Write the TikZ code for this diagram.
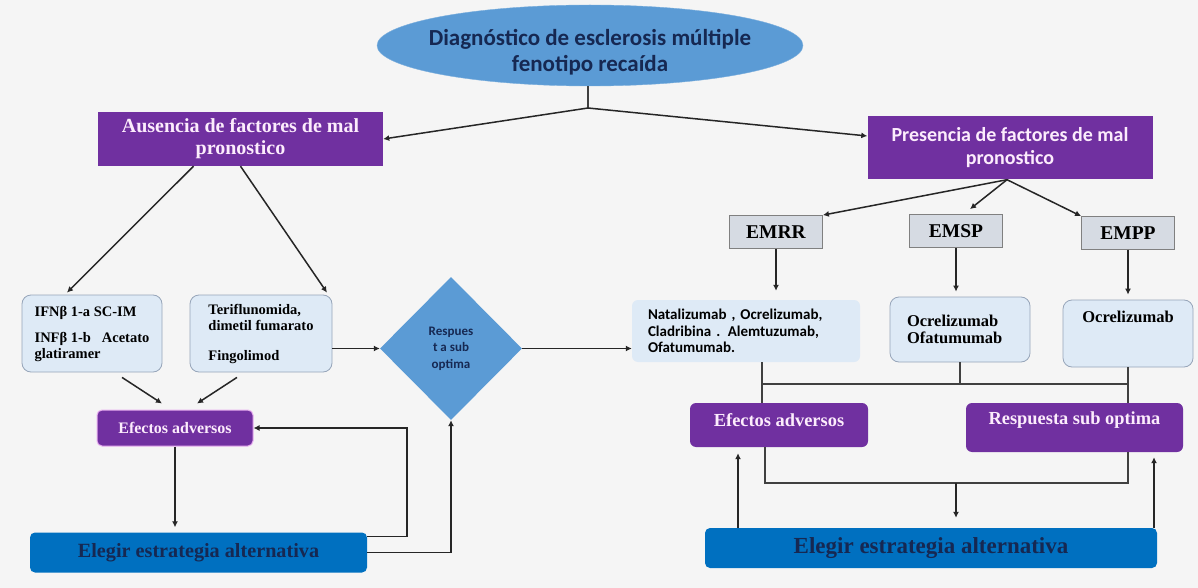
\documentclass[tikz,border=0pt]{standalone}
\usepackage{fontspec}
\setmainfont{Liberation Serif}
\newfontfamily\calib{Carlito}
\usetikzlibrary{shapes.geometric,arrows.meta}
\definecolor{bgc}{RGB}{245,245,245}
\definecolor{oval}{RGB}{91,155,213}
\definecolor{navy}{RGB}{22,40,82}
\definecolor{purp}{RGB}{112,48,160}
\definecolor{pinkw}{RGB}{252,236,252}
\definecolor{glow}{RGB}{232,176,240}
\definecolor{pale}{RGB}{222,234,246}
\definecolor{paleedge}{RGB}{150,165,185}
\definecolor{grbox}{RGB}{214,219,227}
\definecolor{strat}{RGB}{0,112,192}
\newcommand\fsz[2]{\fontsize{#1}{#2}\selectfont}
\tikzset{
  arr/.style={line width=1.5pt,draw=black!85,-{Latex[length=6pt,width=6pt]}},
  bus/.style={line width=1.6pt,draw=black!75},
  purple box/.style={rectangle,fill=purp,text=pinkw,inner sep=0pt,align=center},
  pale box/.style={rectangle,rounded corners=9pt,fill=pale,draw=paleedge,line width=0.8pt,align=left},
  grey box/.style={rectangle,fill=grbox,draw=black!50,line width=0.8pt,minimum width=93pt,minimum height=33pt,
    font=\bfseries\fsz{19.5}{22}},
  strat box/.style={rectangle,rounded corners=5pt,fill=strat,text=navy,inner sep=0pt,font=\bfseries}
}
\begin{document}
\begin{tikzpicture}[x=1pt,y=-1pt]
\fill[bgc] (0,0) rectangle (1198,588);
\useasboundingbox (0,0) rectangle (1198,588);
% top of the chart
\node[ellipse,fill=oval,draw=oval!80!white,minimum width=426pt,minimum height=81pt,inner xsep=-15pt,inner ysep=-5pt,
  align=center,text=navy,font=\calib\bfseries\fsz{23}{26}] (diag) at (590,45.5)
  {\rule{0pt}{29pt}Diagnóstico de esclerosis múltiple\\fenotipo recaída};
\node[purple box,minimum width=285pt,minimum height=54pt,font=\bfseries\fsz{20}{22}] (aus) at (240.5,139)
  {Ausencia de factores de mal\\pronostico};
\node[purple box,minimum width=285pt,minimum height=63pt,font=\calib\bfseries\fsz{20}{23}] (pres) at (1010,148)
  {Presencia de factores de mal\\pronostico};
\coordinate (split) at (588,108);
\draw[bus,line width=1.5pt] (diag.south -| split) -- (split);
\draw[arr] (split) -- (aus.east);
\draw[arr] (split) -- ([yshift=12pt]pres.west);
% left branch
\node[pale box,minimum width=140pt,minimum height=77pt,font=\bfseries\fsz{14.5}{16}] (ifn) at (92,333.5)
  {IFNβ 1-a SC-IM\\[10pt]INFβ 1-b \ \ Acetato\\glatiramer};
\node[pale box,minimum width=142pt,minimum height=77pt,font=\bfseries\fsz{14.5}{16.5}] (teri) at (261,333.5)
  {Teriflunomida,\\dimetil fumarato\\[13pt]Fingolimod};
\node[diamond,fill=oval,minimum width=142pt,minimum height=143pt,inner sep=0pt,align=center,text=navy,
  font=\calib\bfseries\fsz{13}{16.5}] (diam) at (451,348.5) {Respues\\t a sub\\optima};
\node[purple box,rounded corners=5pt,draw=glow,line width=1pt,minimum width=156pt,minimum height=36pt,
  font=\bfseries\fsz{16}{18}] (efL) at (175,428) {Efectos adversos};
\node[strat box,minimum width=337pt,minimum height=40pt,font=\bfseries\fsz{20.2}{22}] (eleL) at (198.5,552.5)
  {Elegir estrategia alternativa};
\draw[arr] ([xshift=-47pt]aus.south) -- ([xshift=-25pt,yshift=2pt]ifn.north);
\draw[arr] (aus.south) -- ([xshift=66pt,yshift=2pt]teri.north);
\draw[arr] ([xshift=30pt,yshift=-5pt]ifn.south) -- ([xshift=-13pt,yshift=6pt]efL.north);
\draw[arr] ([xshift=-24pt,yshift=-5pt]teri.south) -- ([xshift=22pt,yshift=6pt]efL.north);
\draw[arr] (efL.south) -- ([yshift=5pt]efL.south |- eleL.north);
\draw[arr] ([yshift=16pt]eleL.east) -- ++(40,0) |- (efL.east);
\draw[arr] (eleL.east) -| (diam.south);
\draw[arr] (teri.east |- diam.west) -- (diam.west);
% right branch
\node[grey box] (emrr) at (776,232) {EMRR};
\node[grey box] (emsp) at (956,231) {EMSP};
\node[grey box] (empp) at (1128,233) {EMPP};
\node[rectangle,rounded corners=6pt,fill=pale,minimum width=228pt,minimum height=62pt,text width=196pt,inner xsep=16pt,
  align=left,font=\calib\bfseries\fsz{15}{16.5}] (nat) at (746,331)
  {Natalizumab , Ocrelizumab,\\Cladribina . Alemtuzumab,\\Ofatumumab.};
\node[pale box,minimum width=140pt,minimum height=65pt,text width=106pt,inner xsep=17pt,
  font=\bfseries\fsz{16.5}{17}] (ocof) at (960,329.5) {Ocrelizumab\\Ofatumumab};
\node[pale box,minimum width=130pt,minimum height=67pt,text height=5pt,text depth=26.4pt,
  font=\bfseries\fsz{16.5}{17}] (ocre) at (1128,333.5) {Ocrelizumab};
\node[purple box,rounded corners=6pt,minimum width=178pt,minimum height=44pt,text height=9.4pt,text depth=6.6pt,
  font=\bfseries\fsz{18.4}{20}] (efR) at (779,425) {Efectos adversos};
\node[purple box,rounded corners=6pt,minimum width=217pt,minimum height=49pt,text height=6pt,text depth=12.2pt,
  font=\bfseries\fsz{18.4}{20}] (resR) at (1074.5,427.5) {Respuesta sub optima};
\node[strat box,minimum width=452pt,minimum height=40pt,font=\bfseries\fsz{23}{25}] (eleR) at (931,548)
  {Elegir estrategia alternativa};
\draw[arr] (diam.east) -- (diam.east -| nat.west);
\draw[arr] ([xshift=-3pt]pres.south) -- (emrr.north east);
\draw[arr] ([xshift=-3pt]pres.south) -- ([xshift=14pt,yshift=5pt]emsp.north);
\draw[arr] ([xshift=-3pt]pres.south) -- (empp.north west);
\draw[arr] (emrr.south) -- ([yshift=9pt]emrr.south |- nat.north);
\draw[arr] (emsp.south) -- ([yshift=5pt]emsp.south |- ocof.north);
\draw[arr] (empp.south) -- ([yshift=5pt]empp.south |- ocre.north);
\coordinate (busA) at (762,384);
\coordinate (busB) at (765,483);
\draw[bus] (nat.south -| busA) -- (efR.north -| busA);
\draw[bus] (ocof.south) -- (ocof.south |- busA);
\draw[bus] (ocre.south) -- (ocre.south |- resR.north);
\draw[bus] (busA) -- (busA -| ocre.south);
\draw[bus] (efR.south -| busB) -- (busB) -- (busB -| ocre.south) -- (ocre.south |- resR.south);
\draw[arr] (emsp.south |- busB) -- ([yshift=10pt]emsp.south |- eleR.north);
\draw[arr] ([xshift=-193pt]eleR.north) -- ([xshift=-193pt,yshift=-6pt]eleR.north |- efR.south);
\draw[arr] ([xshift=223pt]eleR.north) -- ([xshift=223pt,yshift=-5pt]eleR.north |- resR.south);
\end{tikzpicture}
\end{document}
